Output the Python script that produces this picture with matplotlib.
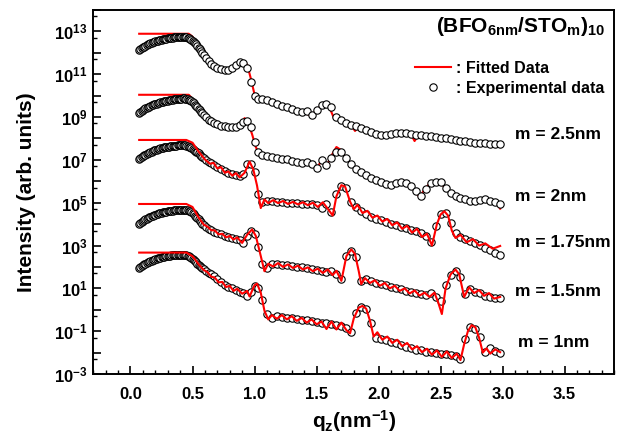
import numpy as np
import matplotlib
matplotlib.use('Agg')
import matplotlib.pyplot as plt
from matplotlib.ticker import FixedLocator, MultipleLocator, FuncFormatter
from matplotlib.lines import Line2D

plt.rcParams['font.family'] = ['Liberation Sans', 'DejaVu Sans']
plt.rcParams['font.weight'] = 'bold'
plt.rcParams['mathtext.default'] = 'regular'

# ---------------- data (log10 of intensity) ----------------
q_exp = [0.07, 0.08, 0.09, 0.10, 0.11, 0.12, 0.13, 0.14, 0.15, 0.16,
         0.17, 0.18, 0.19, 0.20, 0.21, 0.22, 0.23, 0.24, 0.25, 0.26,
         0.27, 0.28, 0.29, 0.30, 0.31, 0.32, 0.33, 0.34, 0.35, 0.36,
         0.37, 0.38, 0.39, 0.40, 0.41, 0.42, 0.43, 0.44, 0.45, 0.46,
         0.47, 0.48, 0.49, 0.50, 0.51, 0.52, 0.53, 0.54, 0.55, 0.56,
         0.57, 0.58, 0.59, 0.61, 0.63, 0.65,
         0.67, 0.70, 0.73, 0.76, 0.79, 0.82, 0.85, 0.88, 0.91, 0.94,
         0.97, 1.00, 1.03,
         1.06, 1.10, 1.14, 1.18, 1.22, 1.26, 1.30, 1.34, 1.38, 1.42,
         1.46, 1.50, 1.54, 1.58, 1.62, 1.66, 1.70, 1.74, 1.78, 1.82,
         1.86, 1.90, 1.94, 1.98, 2.02, 2.06, 2.10, 2.14, 2.18, 2.22,
         2.26, 2.30, 2.34, 2.38, 2.42, 2.46, 2.50, 2.54, 2.58, 2.62,
         2.66, 2.70, 2.74, 2.78, 2.82, 2.86, 2.90, 2.94, 2.98]

exp_m25 = [12.12, 12.17, 12.21, 12.25, 12.29, 12.33, 12.36, 12.39, 12.42, 12.45,
           12.47, 12.49, 12.51, 12.53, 12.55, 12.57, 12.58, 12.60, 12.61, 12.63,
           12.64, 12.65, 12.66, 12.67, 12.68, 12.69, 12.70, 12.71, 12.72, 12.72,
           12.73, 12.74, 12.74, 12.75, 12.75, 12.75, 12.75, 12.74, 12.73, 12.71,
           12.69, 12.66, 12.62, 12.57, 12.52, 12.46, 12.40, 12.32, 12.24, 12.16,
           12.08, 12.00, 11.92, 11.77, 11.62, 11.49,
           11.40, 11.30, 11.23, 11.20, 11.22, 11.30, 11.44, 11.55, 11.53, 11.30,
           10.65, 10.00, 9.82,
           9.84, 9.80, 9.70, 9.62, 9.52, 9.45, 9.36, 9.28, 9.22, 9.30,
           9.08, 9.35, 9.55, 9.60, 9.45, 9.00, 8.85, 8.74, 8.64, 8.56,
           8.48, 8.38, 8.28, 8.22, 8.18, 8.17, 8.20, 8.25, 8.27, 8.27,
           8.22, 8.17, 8.14, 8.12, 8.10, 8.07, 8.04, 8.00, 7.96, 7.93,
           7.90, 7.87, 7.84, 7.81, 7.79, 7.77, 7.75, 7.73, 7.72]

exp_m20 = [9.19, 9.24, 9.28, 9.32, 9.36, 9.40, 9.43, 9.46, 9.49, 9.52,
           9.54, 9.57, 9.59, 9.61, 9.63, 9.65, 9.67, 9.69, 9.70, 9.72,
           9.73, 9.75, 9.76, 9.77, 9.78, 9.79, 9.80, 9.81, 9.82, 9.83,
           9.84, 9.85, 9.85, 9.86, 9.86, 9.87, 9.87, 9.86, 9.85, 9.83,
           9.81, 9.78, 9.74, 9.69, 9.64, 9.58, 9.52, 9.45, 9.38, 9.31,
           9.24, 9.17, 9.10, 8.98, 8.88, 8.80,
           8.74, 8.66, 8.60, 8.56, 8.53, 8.52, 8.55, 8.62, 8.75, 8.80,
           8.55, 7.85, 7.35,
           7.22, 7.16, 7.12, 7.08, 7.06, 7.04, 6.96, 6.88, 6.86, 6.88,
           6.80, 6.62, 6.98, 6.75, 7.10, 7.38, 7.35, 7.10, 6.82, 6.56,
           6.42, 6.28, 6.17, 6.07, 5.95, 5.88, 5.84, 5.90, 5.97, 5.92,
           5.80, 5.55, 5.32, 5.62, 5.92, 5.98, 5.95, 5.68, 5.45, 5.30,
           5.21, 5.15, 5.09, 5.07, 5.13, 5.16, 5.10, 5.02, 4.92]

exp_m175 = [7.03, 7.08, 7.13, 7.17, 7.21, 7.25, 7.28, 7.31, 7.34, 7.37,
            7.39, 7.42, 7.44, 7.46, 7.48, 7.50, 7.52, 7.54, 7.55, 7.57,
            7.58, 7.59, 7.60, 7.61, 7.62, 7.63, 7.64, 7.65, 7.66, 7.67,
            7.67, 7.68, 7.68, 7.69, 7.69, 7.69, 7.69, 7.68, 7.67, 7.65,
            7.62, 7.59, 7.55, 7.51, 7.47, 7.43, 7.39, 7.35, 7.30, 7.24,
            7.18, 7.13, 7.08, 7.00, 6.92, 6.84,
            6.78, 6.68, 6.58, 6.47, 6.40, 6.33, 6.28, 6.24, 6.35, 6.80,
            6.80, 6.45, 5.40,
            5.05, 5.10, 5.06, 5.05, 5.02, 5.00, 4.98, 4.98, 4.96, 4.94,
            4.92, 4.90, 4.75, 4.95, 4.55, 5.40, 5.80, 5.70, 5.05, 4.78,
            4.62, 4.48, 4.35, 4.26, 4.18, 4.10, 4.02, 3.96, 3.88, 3.82,
            3.74, 3.68, 3.60, 3.45, 3.15, 3.90, 4.45, 4.52, 4.05, 3.60,
            3.42, 3.32, 3.22, 3.12, 3.02, 2.90, 2.78, 2.66, 2.56]

exp_m15 = [4.01, 4.06, 4.11, 4.15, 4.19, 4.23, 4.26, 4.29, 4.32, 4.35,
           4.37, 4.40, 4.42, 4.44, 4.46, 4.48, 4.50, 4.52, 4.53, 4.55,
           4.56, 4.57, 4.58, 4.59, 4.60, 4.61, 4.62, 4.63, 4.64, 4.65,
           4.65, 4.66, 4.66, 4.67, 4.67, 4.68, 4.68, 4.68, 4.67, 4.65,
           4.63, 4.60, 4.56, 4.51, 4.46, 4.40, 4.34, 4.28, 4.22, 4.15,
           4.08, 4.02, 3.96, 3.87, 3.79, 3.72,
           3.65, 3.58, 3.52, 3.46, 3.42, 3.36, 3.30, 3.26, 3.12, 3.45,
           3.70, 3.55, 2.95,
           2.15, 1.95, 2.12, 2.15, 2.10, 2.08, 2.05, 2.01, 1.98, 1.94,
           1.90, 1.86, 1.82, 1.75, 1.80, 1.65, 1.45, 2.52, 2.76, 2.45,
           1.35, 1.42, 1.32, 1.25, 1.20, 1.15, 1.08, 1.02, 0.95, 0.88,
           0.82, 0.78, 0.74, 0.70, 0.76, 0.60, 0.40, 1.15, 1.62, 1.82,
           1.52, 0.75, 0.95, 0.85, 0.76, 0.66, 0.60, 0.57, 0.54]

exp_m10 = [1.94, 1.99, 2.04, 2.08, 2.12, 2.16, 2.19, 2.22, 2.25, 2.28,
           2.30, 2.32, 2.34, 2.36, 2.38, 2.40, 2.42, 2.44, 2.45, 2.47,
           2.48, 2.49, 2.50, 2.51, 2.52, 2.53, 2.54, 2.55, 2.55, 2.56,
           2.56, 2.57, 2.57, 2.57, 2.57, 2.57, 2.57, 2.56, 2.55, 2.53,
           2.50, 2.46, 2.42, 2.37, 2.32, 2.27, 2.21, 2.16, 2.10, 2.05,
           1.99, 1.94, 1.89, 1.81, 1.73, 1.65,
           1.57, 1.42, 1.28, 1.17, 1.08, 1.00, 0.92, 0.85, 0.80, 0.65,
           0.85, 1.10, 1.00,
           0.45, -0.20, -0.40, -0.30, -0.33, -0.38, -0.40, -0.42, -0.47, -0.50,
           -0.54, -0.58, -0.62, -0.60, -0.66, -0.70, -0.75, -0.85, -1.05, -0.15,
           0.12, 0.05, -0.60, -1.30, -1.37, -1.42, -1.50, -1.56, -1.66, -1.72,
           -1.80, -1.86, -1.90, -1.95, -1.98, -2.02, -2.05, -2.08, -2.11, -2.15,
           -2.32, -1.35, -0.82, -0.88, -1.25, -1.95, -1.80, -1.92, -2.00]

fit_q_m25 = [0.07, 0.47, 0.50, 0.53, 0.56, 0.60, 0.65, 0.70, 0.75, 0.80,
             0.85, 0.90, 0.94, 0.97, 1.00, 1.03, 1.10, 1.20, 1.30, 1.40,
             1.46, 1.50, 1.56, 1.60, 1.64, 1.70, 1.78, 1.81, 1.84, 1.90,
             2.00, 2.10, 2.20, 2.26, 2.29, 2.32, 2.40, 2.50, 2.60, 2.70,
             2.80, 2.90, 2.98]
fit_m25 = [12.89, 12.89, 12.75, 12.50, 12.20, 11.90, 11.50, 11.28, 11.20, 11.20,
           11.42, 11.58, 11.45, 10.80, 10.05, 9.82, 9.80, 9.58, 9.36, 9.20,
           9.05, 9.35, 9.62, 9.50, 8.95, 8.85, 8.60, 8.35, 8.55, 8.36,
           8.20, 8.20, 8.27, 8.20, 7.88, 8.14, 8.10, 8.03, 7.93, 7.86,
           7.79, 7.74, 7.71]

fit_q_m20 = [0.07, 0.47, 0.50, 0.53, 0.56, 0.60, 0.65, 0.70, 0.75, 0.80,
             0.85, 0.88, 0.92, 0.95, 0.98, 1.01, 1.04, 1.10, 1.20, 1.30,
             1.40, 1.46, 1.50, 1.54, 1.58, 1.62, 1.66, 1.70, 1.74, 1.80,
             1.90, 2.00, 2.10, 2.18, 2.22, 2.26, 2.30, 2.33, 2.37, 2.42,
             2.48, 2.54, 2.60, 2.70, 2.80, 2.86, 2.90, 2.94, 2.98]
fit_m20 = [10.04, 10.04, 9.85, 9.60, 9.35, 9.08, 8.82, 8.67, 8.57, 8.52,
           8.55, 8.65, 8.95, 8.70, 8.20, 7.60, 7.25, 7.15, 7.07, 6.96,
           6.86, 6.80, 6.62, 6.95, 6.70, 7.20, 7.60, 7.45, 7.05, 6.70,
           6.28, 5.95, 5.84, 5.96, 5.90, 5.75, 5.50, 5.25, 5.62, 5.95,
           5.98, 5.70, 5.35, 5.14, 5.08, 5.15, 4.95, 5.05, 4.72]

fit_q_m175 = [0.07, 0.45, 0.50, 0.55, 0.60, 0.64, 0.67, 0.70, 0.73, 0.76,
              0.79, 0.82, 0.85, 0.88, 0.92, 0.96, 0.99, 1.02, 1.05, 1.08,
              1.11, 1.15, 1.19, 1.23, 1.27, 1.31, 1.35, 1.39, 1.43, 1.47,
              1.51, 1.55, 1.59, 1.63, 1.66, 1.70, 1.73, 1.77, 1.80, 1.83,
              1.87, 1.91, 1.95, 1.99, 2.03, 2.07, 2.11, 2.15, 2.19, 2.23,
              2.27, 2.31, 2.35, 2.39, 2.43, 2.47, 2.50, 2.53, 2.56, 2.59,
              2.62, 2.66, 2.71, 2.76, 2.81, 2.86, 2.92, 2.98]
fit_m175 = [7.93, 7.93, 7.80, 7.38, 7.02, 6.82, 6.86, 6.60, 6.66, 6.40,
            6.46, 6.26, 6.38, 6.18, 6.40, 6.92, 6.55, 5.80, 4.75, 5.15,
            4.98, 5.12, 4.98, 5.08, 4.94, 5.04, 4.92, 5.02, 4.88, 5.00,
            4.80, 5.02, 4.72, 4.40, 5.30, 5.82, 5.75, 5.05, 4.70, 4.90,
            4.52, 4.62, 4.30, 4.40, 4.12, 4.24, 3.95, 4.08, 3.78, 3.92,
            3.60, 3.78, 3.40, 3.55, 3.00, 4.00, 4.45, 4.60, 4.40, 3.70,
            3.35, 3.50, 3.15, 3.30, 3.00, 3.10, 2.85, 2.98]

fit_q_m15 = [0.07, 0.45, 0.50, 0.55, 0.59, 0.62, 0.65, 0.68, 0.71, 0.74,
             0.77, 0.80, 0.83, 0.86, 0.90, 0.94, 0.98, 1.01, 1.04, 1.08,
             1.11, 1.15, 1.19, 1.23, 1.27, 1.31, 1.35, 1.39, 1.43, 1.47,
             1.51, 1.55, 1.59, 1.63, 1.66, 1.70, 1.74, 1.78, 1.81, 1.84,
             1.86, 1.89, 1.93, 1.97, 2.01, 2.05, 2.09, 2.13, 2.17, 2.21,
             2.25, 2.29, 2.33, 2.37, 2.41, 2.45, 2.48, 2.51, 2.54, 2.58,
             2.62, 2.65, 2.69, 2.73, 2.77, 2.81, 2.85, 2.89, 2.93, 2.98]
fit_m15 = [4.94, 4.94, 4.80, 4.30, 3.98, 3.88, 3.72, 3.70, 3.52, 3.55,
           3.38, 3.45, 3.28, 3.38, 3.12, 3.50, 3.75, 3.45, 2.75, 1.80,
           2.15, 2.02, 2.18, 2.00, 2.12, 1.95, 2.06, 1.88, 1.98, 1.80,
           1.92, 1.72, 1.88, 1.62, 1.82, 1.35, 2.50, 2.82, 2.60, 1.80,
           1.20, 1.48, 1.25, 1.38, 1.12, 1.25, 1.00, 1.12, 0.88, 1.00,
           0.76, 0.90, 0.66, 0.80, 0.60, 0.80, 0.35, -0.20, 1.00, 1.65,
           1.88, 1.65, 0.60, 1.05, 0.78, 0.92, 0.65, 0.78, 0.52, 0.60]

fit_q_m10 = [0.07, 0.45, 0.50, 0.55, 0.59, 0.62, 0.65, 0.68, 0.71, 0.74,
             0.77, 0.80, 0.83, 0.86, 0.90, 0.94, 0.96, 1.00, 1.02, 1.05,
             1.08, 1.11, 1.14, 1.18, 1.22, 1.26, 1.30, 1.34, 1.38, 1.42,
             1.46, 1.50, 1.54, 1.58, 1.62, 1.66, 1.70, 1.74, 1.77, 1.80,
             1.84, 1.87, 1.90, 1.93, 1.96, 1.99, 2.03, 2.07, 2.11, 2.15,
             2.19, 2.23, 2.27, 2.31, 2.35, 2.39, 2.43, 2.47, 2.51, 2.55,
             2.59, 2.63, 2.66, 2.69, 2.72, 2.75, 2.78, 2.81, 2.84, 2.87,
             2.90, 2.94, 2.98]
fit_m10 = [2.67, 2.67, 2.50, 2.12, 1.86, 1.76, 1.55, 1.50, 1.28, 1.30,
           1.06, 1.12, 0.88, 0.98, 0.75, 0.88, 0.62, 1.15, 1.22, 0.80,
           -0.05, -0.45, -0.25, -0.42, -0.25, -0.45, -0.30, -0.52, -0.38, -0.60,
           -0.45, -0.68, -0.55, -0.90, -0.55, -0.92, -0.60, -0.95, -1.10, -0.40,
           0.10, 0.18, 0.05, -0.50, -1.25, -1.05, -1.40, -1.25, -1.55, -1.40,
           -1.70, -1.55, -1.85, -1.70, -1.98, -1.82, -2.10, -1.90, -2.20, -1.95,
           -2.25, -2.05, -2.35, -1.60, -1.00, -0.72, -0.82, -1.30, -2.00, -1.80,
           -2.05, -1.85, -1.98]

labels = ['m = 2.5nm', 'm = 2nm', 'm = 1.75nm', 'm = 1.5nm', 'm = 1nm']
label_pos = [(3.10, 8.17), (3.10, 5.27), (3.10, 3.12), (3.10, 0.83), (3.12, -1.55)]

exp_sets = [exp_m25, exp_m20, exp_m175, exp_m15, exp_m10]
fit_sets = [(fit_q_m25, fit_m25), (fit_q_m20, fit_m20), (fit_q_m175, fit_m175),
            (fit_q_m15, fit_m15), (fit_q_m10, fit_m10)]
fit_on_top = [False, False, True, True, True]

# ---------------- figure ----------------
fig = plt.figure(figsize=(6.19, 4.36), dpi=100)
ax = fig.add_axes([0.1507, 0.1422, 0.8417, 0.8349])

for ev, (fq, fv), top in zip(exp_sets, fit_sets, fit_on_top):
    ax.plot(q_exp, 10 ** np.array(ev), linestyle='none', marker='o', ms=5.3,
            mfc='white', mec='black', mew=0.8, zorder=3)
    ax.plot(fq, 10 ** np.array(fv), color='#ff0000', lw=1.5,
            zorder=4 if top else 2)

for lab, (x, y) in zip(labels, label_pos):
    ax.text(x, 10 ** y, lab, fontsize=12.5, fontweight='bold',
            ha='left', va='center')

ax.set_yscale('log')
ax.set_xlim(-0.3, 3.9)
ax.set_ylim(1e-3, 1e14)

ax.yaxis.set_major_locator(FixedLocator([10.0 ** k for k in range(-3, 15)]))
ax.yaxis.set_minor_locator(FixedLocator([5 * 10.0 ** k for k in range(-3, 14)]))


def yfmt(v, pos):
    k = int(round(np.log10(v)))
    return r'$10^{%d}$' % k if k % 2 != 0 else ''


ax.yaxis.set_major_formatter(FuncFormatter(yfmt))
ax.xaxis.set_major_locator(FixedLocator([0.0, 0.5, 1.0, 1.5, 2.0, 2.5, 3.0, 3.5]))
ax.xaxis.set_major_formatter(FuncFormatter(lambda v, p: '%.1f' % v))
ax.xaxis.set_minor_locator(MultipleLocator(0.1))

ax.tick_params(which='both', direction='in', top=False, right=False)
ax.tick_params(which='major', length=6, width=1.2, labelsize=12)
ax.tick_params(which='minor', length=3, width=1.0)
ax.tick_params(axis='x', which='major', pad=9)
ax.tick_params(axis='y', which='major', pad=4)
for s in ax.spines.values():
    s.set_linewidth(1.4)

ax.set_ylabel('Intensity (arb. units)', fontsize=15, fontweight='bold')
ax.set_xlabel(r'q$_z$(nm$^{-1}$)', fontsize=15, fontweight='bold')
ax.yaxis.set_label_coords(-0.11, 0.5)
ax.xaxis.set_label_coords(0.5, -0.095)

ax.text(0.982, 0.985, r'(BFO$_{6nm}$/STO$_m$)$_{10}$', transform=ax.transAxes,
        ha='right', va='top', fontsize=15, fontweight='bold')

handles = [Line2D([], [], color='#ff0000', lw=1.5),
           Line2D([], [], linestyle='none', marker='o', ms=5.3, mfc='white',
                  mec='black', mew=0.8)]
ax.legend(handles, [': Fitted Data', ': Experimental data'], loc='upper left',
          bbox_to_anchor=(0.617, 0.86), frameon=False, fontsize=11.5,
          handlelength=2.3, handletextpad=0.3, labelspacing=0.3,
          borderpad=0, borderaxespad=0)

fig.savefig('out.png', dpi=100)
